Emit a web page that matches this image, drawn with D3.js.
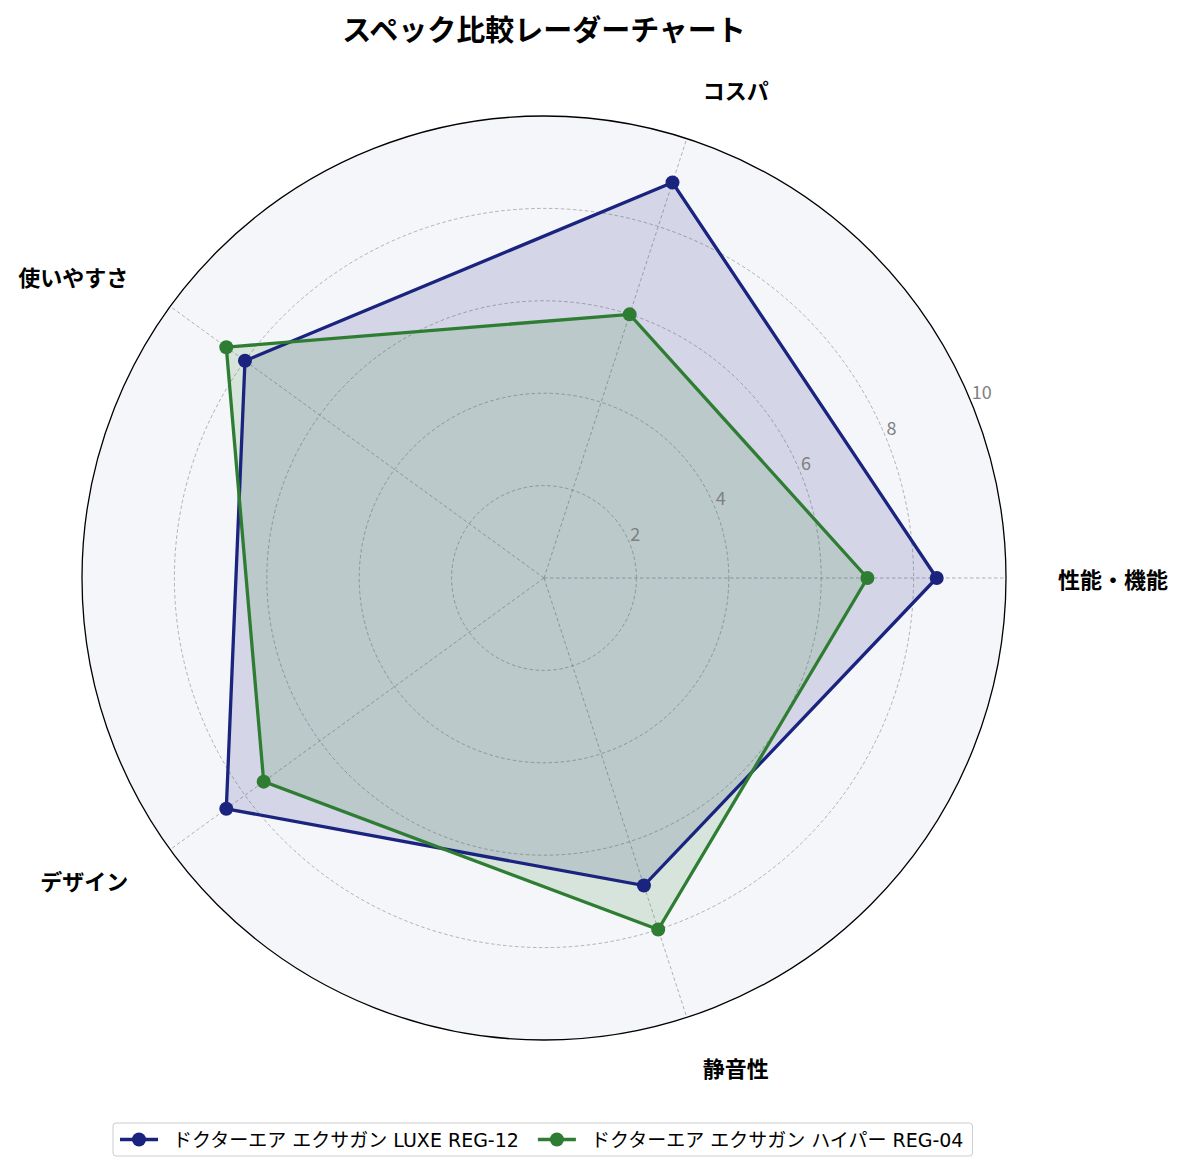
<!DOCTYPE html>
<html>
<head>
<meta charset="utf-8">
<script src="https://cdn.jsdelivr.net/npm/d3@7"></script>
<style>
  html, body { margin: 0; padding: 0; background: #ffffff; }
  svg { display: block; }
</style>
</head>
<body>
<div id="chart"></div>
<script>
// ---- data ----
const categories = ["性能・機能", "コスパ", "使いやすさ", "デザイン", "静音性"];
const seriesNames = ["ドクターエア エクサガン LUXE REG-12", "ドクターエア エクサガン ハイパー REG-04"];
const luxeValues = [8.5, 9.0, 8.0, 8.5, 7.0];
const hyperValues = [7.0, 6.0, 8.5, 7.5, 8.0];
const radialTicks = [2, 4, 6, 8, 10];
const seriesColors = ["#1a237e", "#2e7d32"];
const chartTitle = "スペック比較レーダーチャート";

// ---- layout ----
const W = 1185, H = 1172;
const cx = 544, cy = 578, R = 462;
const font = "'Noto Sans CJK JP', 'Noto Sans', sans-serif";
const legendFont = "'DejaVu Sans', 'Noto Sans CJK JP', sans-serif";

const svg = d3.select("#chart").append("svg")
  .attr("width", W).attr("height", H);

const r = d3.scaleLinear().domain([0, 10]).range([0, R]);
const angle = d3.scaleLinear().domain([0, categories.length]).range([0, 2 * Math.PI]);

const px = (a, rr) => cx + rr * Math.cos(a);
const py = (a, rr) => cy - rr * Math.sin(a);

const g = svg.append("g");

g.append("circle").attr("cx", cx).attr("cy", cy).attr("r", R)
  .attr("fill", "#f5f6fa");

g.selectAll("circle.grid").data(radialTicks.filter(t => t < 10)).enter()
  .append("circle").attr("class", "grid")
  .attr("cx", cx).attr("cy", cy).attr("r", d => r(d))
  .attr("fill", "none").attr("stroke", "#a0a0a0")
  .attr("stroke-width", 0.8).attr("stroke-dasharray", "3.5,2.5");

g.selectAll("line.spoke").data(categories).enter()
  .append("line").attr("class", "spoke")
  .attr("x1", cx).attr("y1", cy)
  .attr("x2", (d, i) => px(angle(i), R))
  .attr("y2", (d, i) => py(angle(i), R))
  .attr("stroke", "#a0a0a0").attr("stroke-width", 0.8)
  .attr("stroke-dasharray", "3.5,2.5");

const allSeries = [luxeValues, hyperValues];
const lineGen = d3.line()
  .x((d, i) => px(angle(i), r(d)))
  .y((d, i) => py(angle(i), r(d)))
  .curve(d3.curveLinearClosed);

allSeries.forEach((vals, si) => {
  g.append("path").attr("d", lineGen(vals))
    .attr("fill", seriesColors[si]).attr("fill-opacity", 0.15)
    .attr("stroke", "none");
});
allSeries.forEach((vals, si) => {
  g.append("path").attr("d", lineGen(vals))
    .attr("fill", "none").attr("stroke", seriesColors[si])
    .attr("stroke-width", 3.3).attr("stroke-linejoin", "miter");
  g.selectAll("circle.m" + si).data(vals).enter()
    .append("circle").attr("class", "m" + si)
    .attr("cx", (d, i) => px(angle(i), r(d)))
    .attr("cy", (d, i) => py(angle(i), r(d)))
    .attr("r", 7).attr("fill", seriesColors[si]);
});

g.append("circle").attr("cx", cx).attr("cy", cy).attr("r", R)
  .attr("fill", "none").attr("stroke", "#000").attr("stroke-width", 1.3);

const rlA = 22.5 * Math.PI / 180;
g.selectAll("text.rtick").data(radialTicks).enter()
  .append("text").attr("class", "rtick")
  .attr("x", d => px(rlA, r(d)) + 1)
  .attr("y", d => py(rlA, r(d)) - 2)
  .attr("text-anchor", "start")
  .attr("font-family", font).attr("font-size", 18)
  .attr("fill", "#808080")
  .text(d => d);

const labR = 514;
g.selectAll("text.cat").data(categories).enter()
  .append("text").attr("class", "cat")
  .attr("x", (d, i) => px(angle(i), labR))
  .attr("y", (d, i) => py(angle(i), labR))
  .attr("text-anchor", (d, i) => Math.cos(angle(i)) >= 0 ? "start" : "end")
  .attr("dominant-baseline", "central")
  .attr("font-family", font).attr("font-size", 22).attr("font-weight", "bold")
  .attr("fill", "#000")
  .text(d => d);

svg.append("text").attr("x", cx).attr("y", 28)
  .attr("text-anchor", "middle").attr("dominant-baseline", "central")
  .attr("font-family", font).attr("font-size", 29).attr("font-weight", "bold")
  .attr("fill", "#000").text(chartTitle);

// legend
const lg = svg.append("g");
const legRect = lg.append("rect").attr("x", 113).attr("y", 1123).attr("height", 33)
  .attr("rx", 3).attr("fill", "#fff").attr("stroke", "#cccccc").attr("stroke-width", 1);
let x0 = 120;
const y0 = 1139.5;
seriesNames.forEach((name, si) => {
  lg.append("line").attr("x1", x0).attr("x2", x0 + 38).attr("y1", y0).attr("y2", y0)
    .attr("stroke", seriesColors[si]).attr("stroke-width", 3.3);
  lg.append("circle").attr("cx", x0 + 19).attr("cy", y0).attr("r", 7)
    .attr("fill", seriesColors[si]);
  const t = lg.append("text").attr("x", x0 + 53).attr("y", y0)
    .attr("dominant-baseline", "central")
    .attr("font-family", legendFont).attr("font-size", 19)
    .attr("fill", "#000").text(name);
  x0 = x0 + 53 + t.node().getComputedTextLength() + 19;
});
legRect.attr("width", x0 - 19 + 9 - 113);
</script>
</body>
</html>
